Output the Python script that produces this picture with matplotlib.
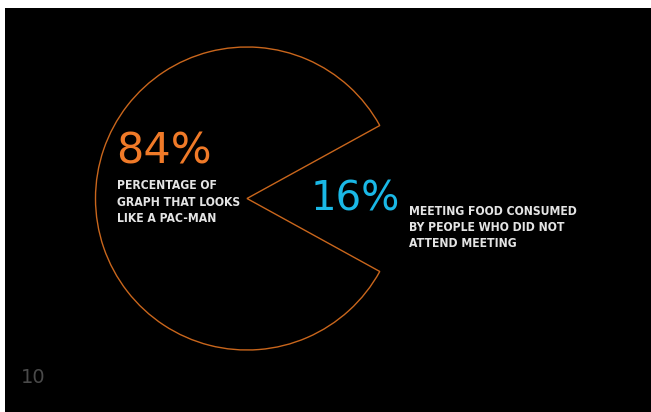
import matplotlib
matplotlib.use('Agg')
import matplotlib.pyplot as plt
from matplotlib.patches import Rectangle

# Chart data
shares = [84, 16]
share_labels = ['84%', '16%']
share_notes = [['PERCENTAGE OF', 'GRAPH THAT LOOKS', 'LIKE A PAC-MAN'],
               ['MEETING FOOD CONSUMED', 'BY PEOPLE WHO DID NOT', 'ATTEND MEETING']]
page_number = '10'

orange_line = '#c9661c'
orange_text = '#f07a28'
cyan_text = '#1ab8e6'
note_color = '#e4e4e4'

W, H = 651, 412
fig = plt.figure(figsize=(W / 100, H / 100), dpi=100, facecolor='white')
ax = fig.add_axes([0, 0, 1, 1])

# black slide area
ax.add_patch(Rectangle((4.5, 8), W, H, facecolor='black', edgecolor='none', zorder=0))

# pac-man pie: only the 84% wedge is outlined, mouth centred on the right
half_mouth = shares[1] / 100 * 360 / 2
wedges, _ = ax.pie(shares, center=(247, 198.5), radius=151.5, startangle=half_mouth,
                   frame=True,
                   wedgeprops=dict(facecolor='none', edgecolor=orange_line, linewidth=1.0))
wedges[1].set_visible(False)

# big numbers
ax.text(116, 163, share_labels[0], color=orange_text, fontsize=31,
        ha='left', va='baseline')
ax.text(311, 210, share_labels[1], color=cyan_text, fontsize=29,
        ha='left', va='baseline')

# notes, one line at a time
note_style = dict(color=note_color, fontsize=8.7, family='DejaVu Sans',
                  fontstretch='condensed', fontweight='bold', ha='left', va='baseline')
for i, line in enumerate(share_notes[0]):
    ax.text(117, 189 + i * 16.5, line, **note_style)
for i, line in enumerate(share_notes[1]):
    ax.text(409, 214.5 + i * 16.3, line, **note_style)

# page number
ax.text(21, 383, page_number, color='#4a4a4a', fontsize=14, ha='left', va='baseline')

ax.set_xlim(0, W)
ax.set_ylim(H, 0)
ax.set_aspect('equal')
ax.axis('off')

fig.savefig('out.png', dpi=100, facecolor='white')
